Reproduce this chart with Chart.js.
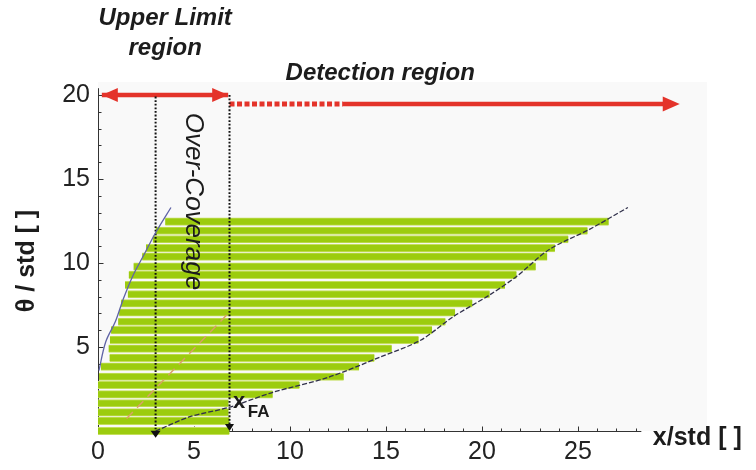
<!DOCTYPE html>
<html>
<head>
<meta charset="utf-8">
<title>Confidence belt</title>
<script src="https://cdn.jsdelivr.net/npm/chart.js@4.4.1/dist/chart.umd.min.js"></script>
<style>
  html, body { margin: 0; padding: 0; background: #fff; }
  #wrap { width: 756px; height: 470px; }
</style>
</head>
<body>
<div id="wrap"><canvas id="belt" width="756" height="470"></canvas></div>
<script>
// one horizontal acceptance band per theta level
var thetaLevels = [0, 0.6, 1.11, 1.65, 2.18, 2.74, 3.23, 3.83, 4.35, 4.9, 5.42, 6.0,
                   6.5, 7.05, 7.6, 8.14, 8.69, 9.29, 9.78, 10.38, 10.88, 11.41, 11.92, 12.46];
var bandStart = [0, 0, 0, 0, 0, 0, 0.05, 0.15, 0.6, 0.55, 0.62, 0.68,
                 1.05, 1.1, 1.2, 1.55, 1.4, 1.6, 1.85, 2.3, 2.5, 2.85, 3.0, 3.5];
var bandEnd = [6.85, 6.85, 6.8, 6.8, 9.1, 10.5, 12.8, 13.6, 14.4, 15.3, 16.7, 17.4,
               18.1, 18.6, 19.5, 20.4, 21.2, 21.8, 22.8, 23.4, 23.8, 24.5, 25.5, 26.6];

// left (upper limit) curve and right (lower) curve of the belt
var upperCurveX = [0.05, 0.4, 0.9, 1.3, 1.8, 2.4, 3.0, 3.8];
var upperCurveTheta = [3.6, 5.3, 6.5, 7.8, 9.2, 10.5, 11.8, 13.3];
var lowerCurveX = [3.0, 4.8, 6.8, 9.1, 12, 14.7, 16.8, 18.5, 20.4, 21.8, 23.5, 25.6, 27.6];
var lowerCurveTheta = [0, 0.85, 1.4, 2.3, 3.2, 4.4, 5.4, 6.8, 8.1, 9.2, 10.8, 12, 13.3];
var meanLineX = [1.49, 6.7];
var meanLineTheta = [0.75, 6.9];

// region markers
var regionEdgesX = [3.0, 6.85];          // over-coverage edge, x_FA
var limitArrowX = [0.2, 6.78];
var limitArrowTheta = 20;
var detectArrowX = [6.85, 12.75, 30.3];  // dashed part, then solid to the tip
var detectArrowTheta = 19.46;

var xTicks = [0, 5, 10, 15, 20, 25];
var yTicks = [5, 10, 15, 20];

var FONT = "'Liberation Sans', Arial, Helvetica, sans-serif";
var RED = '#e4332a';

function pts(xs, ys) {
  return xs.map(function (x, i) { return { x: x, y: ys[i] }; });
}

function arrowHead(ctx, tx, ty, angle, len, half, color) {
  ctx.save();
  ctx.translate(tx, ty);
  ctx.rotate(angle);
  ctx.beginPath();
  ctx.moveTo(0, 0);
  ctx.lineTo(-len, -half);
  ctx.lineTo(-len, half);
  ctx.closePath();
  ctx.fillStyle = color;
  ctx.fill();
  ctx.restore();
}

var beltDecor = {
  id: 'beltDecor',
  beforeDatasetsDraw: function (chart) {
    var ctx = chart.ctx, a = chart.chartArea;
    var xs = chart.scales.x, ys = chart.scales.y;
    ctx.save();
    ctx.fillStyle = '#f9f9f9';
    ctx.fillRect(a.left, a.top, a.right - a.left, a.bottom - a.top);

    // axes drawn by hand: short lines with inward ticks
    var x0 = Math.round(xs.getPixelForValue(0)) + 0.5;
    var y0 = Math.round(ys.getPixelForValue(0)) + 0.5;
    ctx.strokeStyle = '#333';
    ctx.lineWidth = 1;
    ctx.beginPath();
    ctx.moveTo(x0, ys.getPixelForValue(20.4));
    ctx.lineTo(x0, y0);
    ctx.lineTo(xs.getPixelForValue(28.3), y0);
    var v, p, l;
    for (v = 1; v <= 28; v++) {
      p = Math.round(xs.getPixelForValue(v)) + 0.5;
      l = v % 5 === 0 ? 5 : 3;
      ctx.moveTo(p, y0);
      ctx.lineTo(p, y0 - l);
    }
    for (v = 1; v <= 20; v++) {
      p = Math.round(ys.getPixelForValue(v)) + 0.5;
      l = v % 5 === 0 ? 5 : 3;
      ctx.moveTo(x0, p);
      ctx.lineTo(x0 + l, p);
    }
    ctx.stroke();
    ctx.restore();
  },
  afterDatasetsDraw: function (chart) {
    var ctx = chart.ctx;
    var xs = chart.scales.x, ys = chart.scales.y;
    var ly = ys.getPixelForValue(limitArrowTheta);
    arrowHead(ctx, xs.getPixelForValue(limitArrowX[0]), ly, Math.PI, 16, 7, RED);
    arrowHead(ctx, xs.getPixelForValue(limitArrowX[1]), ly, 0, 16, 7, RED);
    arrowHead(ctx, xs.getPixelForValue(detectArrowX[2]), ys.getPixelForValue(detectArrowTheta), 0, 17, 7.5, RED);
    arrowHead(ctx, xs.getPixelForValue(regionEdgesX[0]), ys.getPixelForValue(-0.4), Math.PI / 2, 7, 5, '#111');
    arrowHead(ctx, xs.getPixelForValue(regionEdgesX[1]), ys.getPixelForValue(0), Math.PI / 2, 7, 4.5, '#111');
  },
  afterDraw: function (chart) {
    var ctx = chart.ctx;
    var xs = chart.scales.x, ys = chart.scales.y;
    var X = function (v) { return xs.getPixelForValue(v); };
    var Y = function (v) { return ys.getPixelForValue(v); };
    ctx.save();
    ctx.fillStyle = '#1c1c1c';
    ctx.textBaseline = 'alphabetic';

    ctx.textAlign = 'center';
    ctx.font = 'italic bold 24px ' + FONT;
    ctx.fillText('Upper Limit', X(3.5), 25);
    ctx.fillText('region', X(3.5), 55);
    ctx.fillText('Detection region', X(14.7), 80);

    ctx.textAlign = 'left';
    ctx.font = 'bold 22px ' + FONT;
    ctx.fillText('x', X(7.03), Y(1.37));
    ctx.font = 'bold 17px ' + FONT;
    ctx.fillText('FA', X(7.8), Y(0.83));

    ctx.font = 'bold 25px ' + FONT;
    ctx.fillText('x/std [ ]', X(28.9), Y(-0.83));

    // rotated labels
    ctx.save();
    ctx.translate(X(4.95), Y(13.66));
    ctx.rotate(Math.PI / 2);
    ctx.textAlign = 'center';
    ctx.textBaseline = 'middle';
    ctx.font = 'italic 26px ' + FONT;
    ctx.fillText('Over-Coverage', 0, 0);
    ctx.restore();

    ctx.save();
    ctx.translate(27, 261);
    ctx.rotate(-Math.PI / 2);
    ctx.textAlign = 'center';
    ctx.textBaseline = 'middle';
    ctx.font = 'bold 25px ' + FONT;
    ctx.fillText('\u03b8 / std [ ]', 0, 0);
    ctx.restore();

    ctx.restore();
  }
};

var belt = thetaLevels.map(function (t, i) {
  return { x: [bandStart[i], bandEnd[i]], y: t };
});

var lineBase = { type: 'line', pointRadius: 0, fill: false, clip: false, order: 1 };

var ctx = document.getElementById('belt').getContext('2d');
var chart = new Chart(ctx, {
  type: 'scatter',
  data: {
    datasets: [
      {
        type: 'bar',
        indexAxis: 'y',
        data: belt,
        barThickness: 7.5,
        backgroundColor: '#9ccc0e',
        borderColor: '#c4df5c',
        borderWidth: { top: 1, bottom: 1, left: 0, right: 0 },
        borderSkipped: false,
        clip: false,
        order: 10
      },
      Object.assign({}, lineBase, {
        data: pts(upperCurveX, upperCurveTheta),
        borderColor: '#5f63a6', borderWidth: 1.3, tension: 0.35
      }),
      Object.assign({}, lineBase, {
        data: pts(lowerCurveX, lowerCurveTheta),
        borderColor: '#30304a', borderWidth: 1.3, borderDash: [5, 2], tension: 0.3
      }),
      Object.assign({}, lineBase, {
        data: pts(meanLineX, meanLineTheta),
        borderColor: '#d9a066', borderWidth: 1.5, borderDash: [9, 6]
      }),
      Object.assign({}, lineBase, {
        data: pts([regionEdgesX[0], regionEdgesX[0]], [19.9, 0.1]),
        borderColor: '#111', borderWidth: 2, borderDash: [1.8, 1.8]
      }),
      Object.assign({}, lineBase, {
        data: pts([regionEdgesX[1], regionEdgesX[1]], [20, 0.4]),
        borderColor: '#111', borderWidth: 2, borderDash: [1.8, 1.8]
      }),
      Object.assign({}, lineBase, {
        data: pts(limitArrowX, [limitArrowTheta, limitArrowTheta]),
        borderColor: RED, borderWidth: 4.5
      }),
      Object.assign({}, lineBase, {
        data: pts(detectArrowX.slice(0, 2), [detectArrowTheta, detectArrowTheta]),
        borderColor: RED, borderWidth: 5, borderDash: [5, 2.5]
      }),
      Object.assign({}, lineBase, {
        data: pts([detectArrowX[1], detectArrowX[2] - 0.6], [detectArrowTheta, detectArrowTheta]),
        borderColor: RED, borderWidth: 4.5
      })
    ]
  },
  options: {
    responsive: false,
    animation: false,
    events: [],
    layout: { padding: { top: 82, right: 49, left: 0, bottom: 0 } },
    plugins: { legend: { display: false }, tooltip: { enabled: false } },
    scales: {
      x: {
        type: 'linear', min: 0, max: 31.72, offset: false,
        grid: { display: false, drawTicks: false },
        border: { display: false },
        afterFit: function (scale) { scale.height = 39; },
        ticks: {
          stepSize: 5, includeBounds: false, padding: 6,
          color: '#222', font: { family: FONT, size: 25 },
          callback: function (v) { return xTicks.indexOf(v) >= 0 ? String(v) : ''; }
        }
      },
      y: {
        type: 'linear', min: 0, max: 20.77, offset: false,
        grid: { display: false, drawTicks: false },
        border: { display: false },
        afterFit: function (scale) { scale.width = 98; },
        ticks: {
          stepSize: 5, includeBounds: false, padding: 8,
          color: '#222', font: { family: FONT, size: 25 },
          callback: function (v) { return yTicks.indexOf(v) >= 0 ? String(v) : ''; }
        }
      }
    }
  },
  plugins: [beltDecor]
});
</script>
</body>
</html>
